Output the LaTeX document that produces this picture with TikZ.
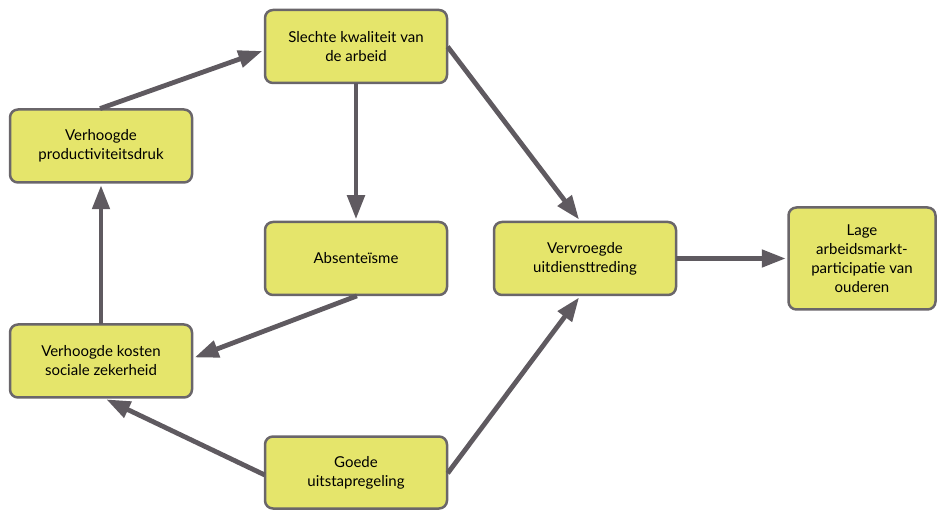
\documentclass[tikz,border=0pt]{standalone}
\usepackage{fontspec}
\setmainfont{Lato}
\usetikzlibrary{arrows.meta}
\definecolor{boxfill}{HTML}{E5E56B}
\definecolor{boxline}{HTML}{6A666A}
\definecolor{arr}{HTML}{5F5A60}
\begin{document}
\begin{tikzpicture}[x=1pt,y=-1pt,
  box/.style={draw=boxline, line width=2.5pt, fill=boxfill, rounded corners=8pt,
    minimum width=182pt, minimum height=73pt, align=center, inner sep=2pt,
    font=\fontsize{15}{19}\selectfont},
  con/.style={draw=arr, line width=4.8pt, -{Triangle[length=24pt,width=17pt]}, shorten >=1.5pt, shorten <=-1pt}]
\useasboundingbox (0,0) rectangle (937,510);
\node[box] (slechte) at (356,46.5) {Slechte kwaliteit van\\de arbeid};
\node[box] (prod) at (101,146) {Verhoogde\\productiviteitsdruk};
\node[box] (abs) at (356,258.5) {Absenteïsme};
\node[box] (vervr) at (585,258.5) {Vervroegde\\uitdiensttreding};
\node[box, minimum width=147pt, minimum height=102pt] (lage) at (862,258.5) {Lage\\arbeidsmarkt-\\participatie van\\ouderen};
\node[box] (kosten) at (101,361) {Verhoogde kosten\\sociale zekerheid};
\node[box, minimum height=72pt] (goede) at (356,472.5) {Goede\\uitstapregeling};
\draw[con] (prod.north) -- ([yshift=-4pt]slechte.west);
\draw[con] (slechte.south) -- (abs.north);
\draw[con] ([yshift=-1pt]slechte.east) -- ([xshift=-5pt]vervr.north);
\draw[con] (abs.south) -- ([yshift=3pt]kosten.east);
\draw[con] (kosten.north) -- (prod.south);
\draw[con] ([yshift=-2pt]goede.west) -- ([xshift=4pt]kosten.south);
\draw[con] (goede.east) -- ([xshift=-5pt]vervr.south);
\draw[con] (vervr.east) -- (lage.west);
\end{tikzpicture}
\end{document}
